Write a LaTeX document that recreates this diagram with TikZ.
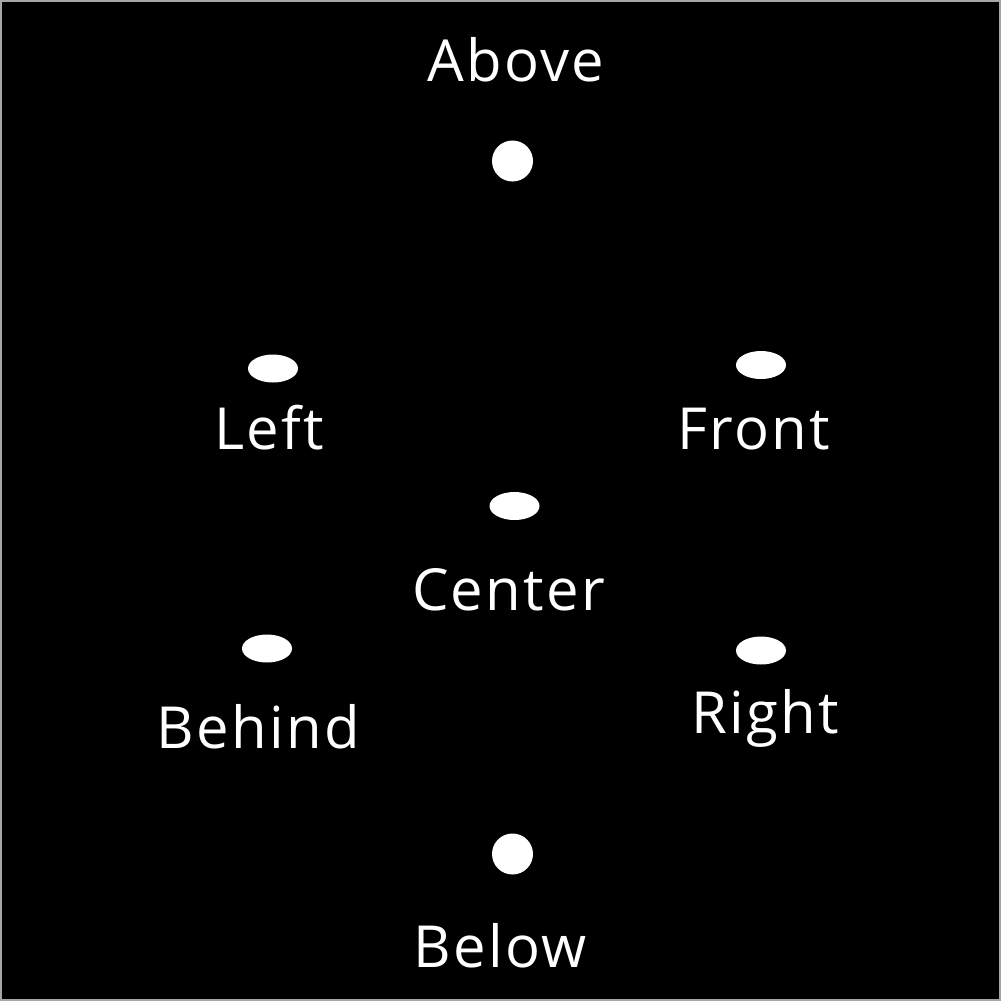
\documentclass[tikz,border=0pt]{standalone}
\usepackage{fontspec}
\setmainfont[LetterSpace=4]{Open Sans}
\usepackage{tikz}
\usetikzlibrary{shapes.geometric}

\begin{document}
\begin{tikzpicture}[
    spot/.style={ellipse,fill=white,inner sep=0pt,minimum width=0.50cm,minimum height=0.28cm},
    pole/.style={circle,fill=white,inner sep=0pt,minimum size=0.41cm},
    tag/.style={white,anchor=base,inner sep=0pt,font=\fontsize{16.5}{19}\selectfont}]
  % black page with a thin grey frame
  \fill[black] (0,0) rectangle (10.01,-10.01);
  \draw[gray!70,line width=0.02cm] (0.01,-0.01) rectangle (10.00,-10.00);
  \useasboundingbox (0,0) rectangle (10.01,-10.01);
  % the seven positions
  \node[pole] (above)  at (5.125,-1.61) {};
  \node[spot] (left)   at (2.73,-3.685) {};
  \node[spot] (front)  at (7.61,-3.65) {};
  \node[spot] (center) at (5.145,-5.06) {};
  \node[spot] (behind) at (2.67,-6.485) {};
  \node[spot] (right)  at (7.61,-6.505) {};
  \node[pole] (below)  at (5.125,-8.54) {};
  % their names
  \node[tag] (above-txt)  at (5.16,-0.81) {Above};
  \node[tag] (left-txt)   at (2.69,-4.49) {Left};
  \node[tag] (front-txt)  at (7.54,-4.49) {Front};
  \node[tag] (center-txt) at (5.085,-6.10) {Center};
  \node[tag] (behind-txt) at (2.58,-7.48) {Behind};
  \node[tag] (right-txt)  at (7.655,-7.33) {Right};
  \node[tag] (below-txt)  at (5.005,-9.67) {Below};
\end{tikzpicture}
\end{document}
